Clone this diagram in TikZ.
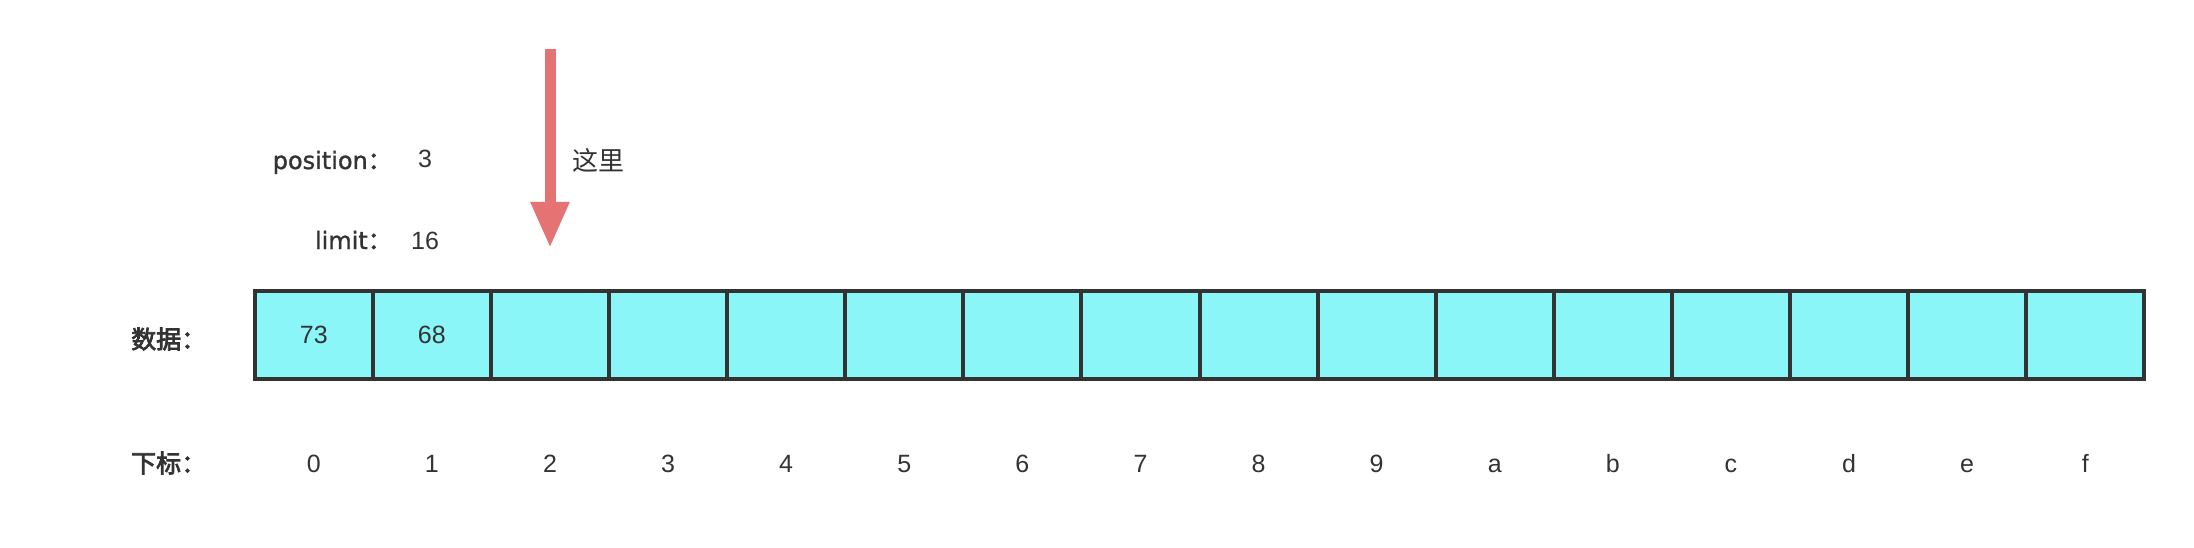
\documentclass[tikz,border=0pt]{standalone}
\usepackage{fontspec}
\setmainfont{Liberation Sans}
\newfontfamily\medfont[FakeBold=1.2]{DejaVu Sans}
\newfontfamily\cjk{Noto Sans CJK SC}
\newfontfamily\cjkb[FakeBold=3]{Noto Sans CJK SC}
\usetikzlibrary{arrows.meta}
\definecolor{cellfill}{HTML}{8AF6F7}
\definecolor{celldraw}{HTML}{333333}
\definecolor{arrowred}{HTML}{E57373}
\definecolor{txt}{HTML}{333333}
\begin{document}
\begin{tikzpicture}[x=1pt,y=-1pt,
  cell/.style={draw=celldraw,fill=cellfill,line width=4pt,minimum width=118.1pt,minimum height=88pt,inner sep=0pt,outer sep=0pt,text=txt,font=\fontsize{25}{29}\selectfont},
  lbl/.style={text=txt,inner sep=0pt,font=\fontsize{25}{29}\selectfont},
  mlbl/.style={text=txt,inner sep=0pt,font=\fontsize{24}{29}\selectfont\medfont},
  blbl/.style={text=txt,inner sep=0pt,font=\fontsize{25}{29}\selectfont\cjkb}]
\useasboundingbox[fill=white] (0,0) rectangle (2194,548);
% cells
\foreach \i/\t in {0/73,1/68,2/,3/,4/,5/,6/,7/,8/,9/,10/,11/,12/,13/,14/,15/}{
  \node[cell] (c\i) at ({254.7+118.1*(\i+0.5)},335) {\t};
}
\foreach \i/\t in {0/0,1/1,2/2,3/3,4/4,5/5,6/6,7/7,8/8,9/9,10/a,11/b,12/c,13/d,14/e,15/f}{
  \node[lbl,anchor=base] (ix\i) at ({254.7+118.1*(\i+0.5)},472) {\t};
}
\node[blbl,anchor=west] (datalbl) at (131,339) {数据：};
\node[blbl,anchor=west] (idxlbl) at (131,463) {下标：};
\node[mlbl,anchor=base east] (poslbl) at (392,169) {position{\cjkb ：}};
\node[lbl,anchor=base] (posval) at (425,168) {3};
\node[mlbl,anchor=base east] (limlbl) at (392,249) {limit{\cjkb ：}};
\node[lbl,anchor=base] (limval) at (425,249) {16};
\node[lbl,anchor=west,font=\fontsize{26}{30}\selectfont\cjk] (here) at (572,160) {这里};
\coordinate (atop) at (550,49);
\coordinate (atip) at (550,248);
\draw[arrowred,line width=11pt,-{Triangle[width=36pt,length=46pt]}] (atop) -- (atip);
\end{tikzpicture}
\end{document}
